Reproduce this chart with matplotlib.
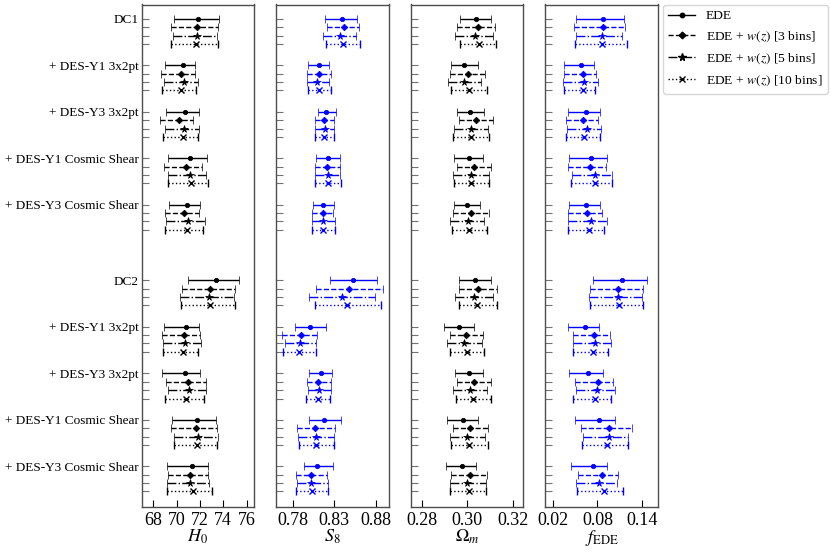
import matplotlib
matplotlib.use("Agg")
import matplotlib.pyplot as plt
from matplotlib.lines import Line2D
import numpy as np

plt.rcParams['font.family'] = ['Liberation Serif', 'DejaVu Serif']
plt.rcParams['mathtext.fontset'] = 'stix'

# nombres de los conjuntos de datos (uno por grupo)
grupos = ['DC1', '+ DES-Y1 3x2pt', '+ DES-Y3 3x2pt', '+ DES-Y1 Cosmic Shear', '+ DES-Y3 Cosmic Shear',
          'DC2', '+ DES-Y1 3x2pt', '+ DES-Y3 3x2pt', '+ DES-Y1 Cosmic Shear', '+ DES-Y3 Cosmic Shear']
modelos = ['EDE', 'EDE + $w(z)$ [3 bins]', 'EDE + $w(z)$ [5 bins]', 'EDE + $w(z)$ [10 bins]']

# cada fila: [bajo, centro, alto] ; 4 filas por grupo (EDE, 3, 5, 10 bins)
H0 = [
    [69.77, 71.88, 73.62], [69.54, 71.79, 73.51], [69.69, 71.76, 73.48], [69.57, 71.68, 73.51],
    [68.98, 70.53, 71.57], [68.70, 70.42, 71.60], [68.90, 70.64, 71.82], [68.73, 70.39, 71.65],
    [69.07, 70.75, 71.93], [68.56, 70.19, 71.43], [69.01, 70.67, 71.93], [68.84, 70.53, 71.82],
    [69.29, 71.17, 72.58], [68.90, 70.81, 72.21], [69.26, 71.17, 72.55], [69.26, 71.26, 72.66],
    [69.35, 70.87, 72.02], [69.01, 70.67, 71.96], [69.10, 71.00, 72.41], [69.04, 70.87, 72.27],
    [71.00, 73.37, 75.36], [70.44, 72.86, 74.99], [70.30, 72.80, 74.90], [70.42, 72.89, 74.99],
    [68.93, 70.84, 71.93], [68.73, 70.64, 71.99], [68.81, 70.75, 72.10], [68.81, 70.53, 71.88],
    [68.79, 70.75, 72.02], [69.07, 70.95, 72.49], [69.26, 71.03, 72.55], [68.98, 70.81, 72.38],
    [69.63, 71.76, 73.34], [69.49, 71.68, 73.48], [69.77, 71.88, 73.56], [69.77, 71.76, 73.45],
    [69.21, 71.34, 72.69], [69.26, 71.17, 72.69], [69.21, 71.12, 72.80], [69.21, 71.37, 73.08],
]

S8 = [
    [0.8184, 0.8392, 0.8572], [0.8208, 0.8412, 0.8600], [0.8168, 0.8368, 0.8560], [0.8204, 0.8404, 0.8604],
    [0.7988, 0.8112, 0.8232], [0.7968, 0.8112, 0.8256], [0.7968, 0.8096, 0.8236], [0.7980, 0.8116, 0.8256],
    [0.8100, 0.8204, 0.8316], [0.8064, 0.8176, 0.8296], [0.8072, 0.8188, 0.8300], [0.8064, 0.8180, 0.8296],
    [0.8080, 0.8228, 0.8364], [0.8064, 0.8216, 0.8364], [0.8064, 0.8220, 0.8372], [0.8072, 0.8228, 0.8380],
    [0.8044, 0.8168, 0.8296], [0.8028, 0.8164, 0.8288], [0.8028, 0.8164, 0.8304], [0.8028, 0.8164, 0.8308],
    [0.8252, 0.8524, 0.8808], [0.8076, 0.8476, 0.8884], [0.7996, 0.8392, 0.8792], [0.8064, 0.8452, 0.8860],
    [0.7832, 0.8004, 0.8200], [0.7668, 0.7896, 0.8092], [0.7704, 0.7892, 0.8084], [0.7680, 0.7880, 0.8076],
    [0.8000, 0.8136, 0.8268], [0.7972, 0.8108, 0.8264], [0.7984, 0.8120, 0.8264], [0.7964, 0.8100, 0.8244],
    [0.8000, 0.8172, 0.8376], [0.7856, 0.8068, 0.8304], [0.7868, 0.8076, 0.8292], [0.7876, 0.8084, 0.8300],
    [0.7932, 0.8096, 0.8280], [0.7840, 0.8024, 0.8208], [0.7848, 0.8020, 0.8220], [0.7840, 0.8032, 0.8224],
]

Om = [
    [0.2969, 0.3037, 0.3104], [0.2954, 0.3046, 0.3121], [0.2947, 0.3034, 0.3116], [0.2967, 0.3053, 0.3129],
    [0.2927, 0.2988, 0.3047], [0.2926, 0.3004, 0.3080], [0.2916, 0.2987, 0.3062], [0.2930, 0.3007, 0.3086],
    [0.2957, 0.3013, 0.3073], [0.2963, 0.3037, 0.3114], [0.2944, 0.3016, 0.3090], [0.2939, 0.3018, 0.3095],
    [0.2944, 0.3007, 0.3070], [0.2953, 0.3028, 0.3105], [0.2938, 0.3016, 0.3096], [0.2942, 0.3018, 0.3096],
    [0.2941, 0.2999, 0.3056], [0.2936, 0.3015, 0.3095], [0.2923, 0.3003, 0.3076], [0.2932, 0.3010, 0.3089],
    [0.2964, 0.3034, 0.3104], [0.2964, 0.3049, 0.3133], [0.2945, 0.3028, 0.3116], [0.2964, 0.3044, 0.3132],
    [0.2896, 0.2963, 0.3028], [0.2923, 0.2993, 0.3070], [0.2913, 0.2988, 0.3065], [0.2923, 0.2999, 0.3076],
    [0.2947, 0.3006, 0.3068], [0.2954, 0.3028, 0.3104], [0.2936, 0.3012, 0.3086], [0.2950, 0.3027, 0.3104],
    [0.2910, 0.2982, 0.3047], [0.2936, 0.3012, 0.3092], [0.2924, 0.3000, 0.3080], [0.2930, 0.3009, 0.3090],
    [0.2908, 0.2975, 0.3039], [0.2929, 0.3012, 0.3089], [0.2923, 0.3000, 0.3081], [0.2926, 0.3007, 0.3084],
]

fEDE = [
    [0.0519, 0.0878, 0.1157], [0.0492, 0.0869, 0.1170], [0.0514, 0.0864, 0.1134], [0.0506, 0.0855, 0.1196],
    [0.0355, 0.0581, 0.0758], [0.0346, 0.0603, 0.0785], [0.0342, 0.0625, 0.0811], [0.0346, 0.0603, 0.0771],
    [0.0399, 0.0643, 0.0833], [0.0373, 0.0612, 0.0807], [0.0390, 0.0656, 0.0851], [0.0373, 0.0625, 0.0833],
    [0.0417, 0.0709, 0.0931], [0.0399, 0.0700, 0.0917], [0.0461, 0.0762, 0.0993], [0.0452, 0.0771, 0.1002],
    [0.0417, 0.0647, 0.0838], [0.0399, 0.0665, 0.0855], [0.0399, 0.0718, 0.0935], [0.0399, 0.0687, 0.0895],
    [0.0740, 0.1126, 0.1471], [0.0705, 0.1077, 0.1418], [0.0692, 0.1077, 0.1400], [0.0705, 0.1090, 0.1418],
    [0.0399, 0.0638, 0.0816], [0.0466, 0.0758, 0.0971], [0.0466, 0.0771, 0.0984], [0.0470, 0.0745, 0.0944],
    [0.0413, 0.0669, 0.0873], [0.0501, 0.0802, 0.1015], [0.0519, 0.0789, 0.1033], [0.0475, 0.0767, 0.0988],
    [0.0501, 0.0816, 0.1037], [0.0585, 0.0953, 0.1258], [0.0603, 0.0962, 0.1214], [0.0599, 0.0935, 0.1210],
    [0.0448, 0.0740, 0.0935], [0.0545, 0.0855, 0.1077], [0.0519, 0.0820, 0.1064], [0.0528, 0.0886, 0.1139],
]

# etiquetas y ticks de cada panel
etiquetas = [r'$H_0$', r'$S_8$', r'$\Omega_m$', r'$f_{\rm EDE}$']
ticks = [[68, 70, 72, 74, 76], [0.78, 0.83, 0.88], [0.28, 0.30, 0.32], [0.02, 0.08, 0.14]]
ticklabels = [['68', '70', '72', '74', '76'], ['0.78', '0.83', '0.88'],
              ['0.28', '0.30', '0.32'], ['0.02', '0.08', '0.14']]
limites = [(67.02, 76.65), (0.760, 0.895), (0.2751, 0.3247), (0.0101, 0.161)]
colores = ['k', 'b', 'k', 'b']

estilos = ['-', '--', '-.', ':']
marcadores = ['o', 'D', '*', 'x']
tamanos = [3.2, 3.4, 5.5, 4.0]

# posiciones verticales de cada fila
base = [0, 1, 2, 3, 4, 5.63, 6.63, 7.64, 8.64, 9.64]
paso = 0.18
y = []
for b in base:
    for j in range(4):
        y.append(b + j * paso)
y = np.array(y)

fig = plt.figure(figsize=(8.31, 5.54), dpi=100)
izq = [141.7, 276.0, 410.7, 545.3]
ancho = 112.5
abajo = 1 - 506.7 / 554
alto = (506.7 - 4.5) / 554

datos = [H0, S8, Om, fEDE]
for k in range(4):
    ax = fig.add_axes([izq[k] / 831, abajo, ancho / 831, alto])
    d = np.array(datos[k])
    for i in range(len(d)):
        m = i % 4
        lo, c, hi = d[i]
        cont = ax.errorbar(c, y[i], xerr=[[c - lo], [hi - c]], fmt=marcadores[m], ms=tamanos[m],
                           color=colores[k], ecolor=colores[k], elinewidth=1.0, capsize=3,
                           capthick=0.9, mew=1.0 if m == 3 else 0.5)
        cont[2][0].set_linestyle(estilos[m])
    ax.set_xlim(limites[k])
    ax.set_ylim(10.511, -0.3125)
    ax.set_xticks(ticks[k])
    ax.set_xticklabels(ticklabels[k], fontsize=13)
    ax.set_xlabel(etiquetas[k], fontsize=13, labelpad=-1)
    ax.set_yticks(y)
    if k == 0:
        lab = []
        for i in range(len(y)):
            lab.append(grupos[i // 4] if i % 4 == 0 else '')
        ax.set_yticklabels(lab, fontsize=9.5)
    else:
        ax.set_yticklabels([])
    ax.tick_params(axis='x', direction='in', length=5, width=0.8, pad=4)
    ax.tick_params(axis='y', direction='in', length=5, width=0.8, color='0.45', pad=2)
    for s in ax.spines.values():
        s.set_color('0.3')
        s.set_linewidth(1.0)

# leyenda con lineas de muestra
manijas = []
for m in range(4):
    manijas.append(Line2D([], [], color='k', ls=estilos[m], marker=marcadores[m],
                          ms=tamanos[m], lw=1.0))
fig.legend(manijas, modelos, loc='upper left', bbox_to_anchor=(663 / 831, 1 - 4.5 / 554),
           fontsize=9.7, labelspacing=0.55, handlelength=2.0, handletextpad=0.8,
           borderpad=0.4, borderaxespad=0.0, frameon=True, fancybox=True, edgecolor='0.8')

plt.savefig('out.png', dpi=100)
